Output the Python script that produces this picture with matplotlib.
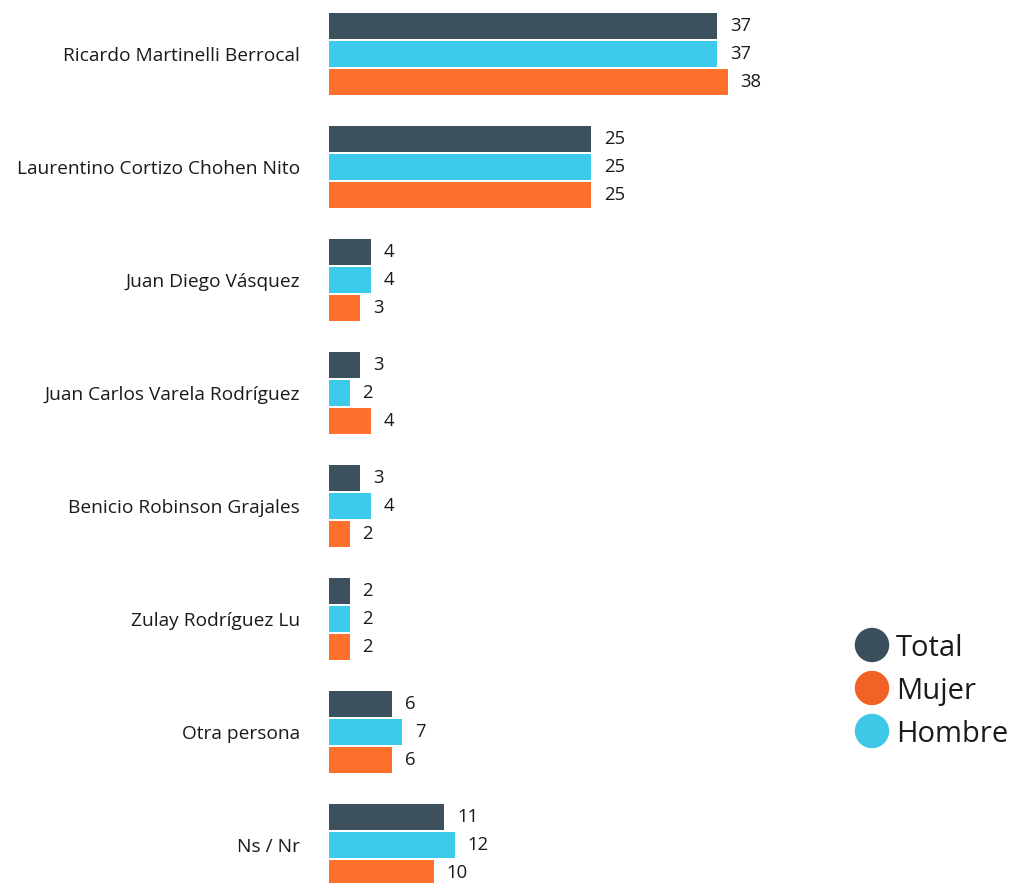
"""Grouped horizontal bars: voting preference by candidate, split by sex."""

import matplotlib.pyplot as plt
import numpy as np
from matplotlib.patches import Ellipse

plt.rcParams["font.family"] = ["Open Sans", "DejaVu Sans"]

candidates = [
    "Ricardo Martinelli Berrocal",
    "Laurentino Cortizo Chohen Nito",
    "Juan Diego Vásquez",
    "Juan Carlos Varela Rodríguez",
    "Benicio Robinson Grajales",
    "Zulay Rodríguez Lu",
    "Otra persona",
    "Ns / Nr",
]
total = [37, 25, 4, 3, 3, 2, 6, 11]
hombre = [37, 25, 4, 2, 4, 2, 7, 12]
mujer = [38, 25, 3, 4, 2, 2, 6, 10]

C_TOTAL = "#3d505d"
C_HOMBRE = "#3ccbeb"
C_MUJER = "#fe712d"

W, H = 1015, 883
fig = plt.figure(figsize=(W / 100, H / 100), dpi=100)
ax = fig.add_axes([329 / W, 0, 471 / W, 1])

y = np.arange(len(candidates))
step = 28 / 113
height = 26 / 113

series = [(total, C_TOTAL, -step), (hombre, C_HOMBRE, 0), (mujer, C_MUJER, step)]
for values, color, off in series:
    ax.barh(y + off, values, height=height, color=color)
    for yi, v in zip(y, values):
        ax.text(v + 1.2, yi + off, str(v), va="center", ha="left",
                fontsize=13.3, color="#1a1a1a")

ax.set_xlim(0, 471 / 10.49)
ax.set_ylim((H - 54) / 113, -54 / 113)
ax.set_yticks(y)
ax.set_yticklabels(candidates, fontsize=13.8, color="#1a1a1a")
ax.tick_params(axis="y", length=0, pad=21)
ax.set_xticks([])
for s in ax.spines.values():
    s.set_visible(False)

# legend drawn by hand with round markers
legend_items = [("Total", "#3a4f5c", 645), ("Mujer", "#f26126", 688),
                ("Hombre", "#3cc8e6", 731)]
for name, color, py in legend_items:
    fy = 1 - py / H
    fig.add_artist(Ellipse((872 / W, fy), 33 / W, 33 / H, color=color,
                           transform=fig.transFigure))
    fig.text(896 / W, fy - 3 / H, name, fontsize=21, va="center", ha="left",
             color="#1a1a1a")

fig.savefig("out.png", dpi=100)
